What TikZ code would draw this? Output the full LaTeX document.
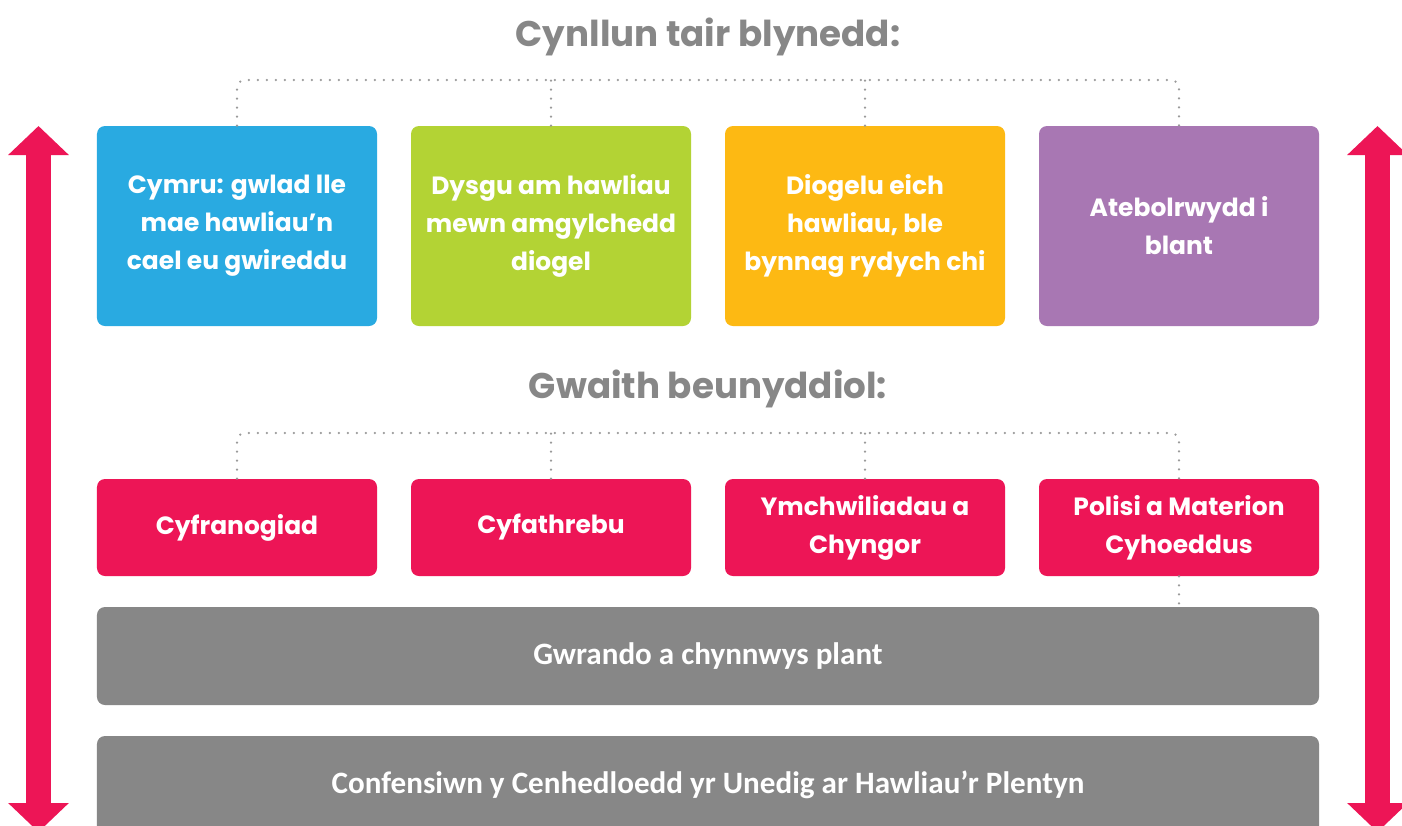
\documentclass[tikz,border=0pt]{standalone}
\usepackage{fontspec}
\setmainfont{Poppins}
\newfontfamily\basefont{Carlito}
\usepackage{tikz}
\usetikzlibrary{arrows.meta,positioning}
\definecolor{rightsblue}{HTML}{29AAE1}
\definecolor{rightsgreen}{HTML}{B3D334}
\definecolor{rightsorange}{HTML}{FDB913}
\definecolor{rightspurple}{HTML}{A877B3}
\definecolor{rightspink}{HTML}{ED1556}
\definecolor{basegray}{HTML}{878787}
\definecolor{headgray}{HTML}{878787}
\definecolor{dotgray}{HTML}{9A9A9A}

\begin{document}
\begin{tikzpicture}[x=0.2mm, y=-0.2mm,
    planbox/.style={rectangle, rounded corners=1.6mm, minimum width=56mm, minimum height=40mm,
        inner sep=0pt, text=white, align=center, font=\bfseries\fontsize{14.2}{21.6}\selectfont},
    workbox/.style={planbox, fill=rightspink, minimum height=19.4mm},
    basebox/.style={rectangle, rounded corners=1.6mm, fill=basegray, minimum width=244.4mm,
        minimum height=19.6mm, text=white, font=\basefont\bfseries\fontsize{17.7}{20}\selectfont},
    heading/.style={text=headgray, font=\bfseries\fontsize{20.3}{24}\selectfont},
    dotline/.style={draw=dotgray, line width=0.5mm, line cap=round, dash pattern=on 0pt off 1.8mm,
        rounded corners=1.6mm},
    bigarrow/.style={draw=rightspink, line width=5mm,
        {Triangle[width=11.8mm,length=5.8mm]}-{Triangle[width=11.8mm,length=5.8mm]}}
]
\useasboundingbox (0,0) rectangle (1402,825);
\clip (0,0) rectangle (1402,825);
\fill[white] (0,0) rectangle (1402,825);

% ---- Three-year plan ----
\node[heading] (plantitle) at (708,37) {Cynllun tair blynedd:};
\coordinate (planhub) at (708,80);

\node[planbox, fill=rightsblue] (plan1) at (237,226) {Cymru: gwlad lle\\mae hawliau’n\\cael eu gwireddu};
\node[planbox, fill=rightsgreen] (plan2) at (551,226) {Dysgu am hawliau\\mewn amgylchedd\\diogel};
\node[planbox, fill=rightsorange] (plan3) at (865,226) {Diogelu eich\\hawliau, ble\\bynnag rydych chi};
\node[planbox, fill=rightspurple] (plan4) at (1179,226) {Atebolrwydd i\\blant};

% dotted bracket above the plan boxes
\draw[dotline] (plan1.north) |- (planhub) -| (plan4.north);
\draw[dotline] (plan2.north) -- (plan2.north |- planhub);
\draw[dotline] (plan3.north) -- (plan3.north |- planhub);

% ---- Daily work ----
\node[heading] (worktitle) at (708,389) {Gwaith beunyddiol:};
\coordinate (workhub) at (708,433);

\node[workbox] (work1) at (237,527.5) {Cyfranogiad};
\node[workbox] (work2) at (551,527.5) {Cyfathrebu};
\node[workbox] (work3) at (865,527.5) {Ymchwiliadau a\\Chyngor};
\node[workbox] (work4) at (1179,527.5) {Polisi a Materion\\Cyhoeddus};

\draw[dotline] (work1.north) |- (workhub) -| (work4.north);
\draw[dotline] (work2.north) -- (work2.north |- workhub);
\draw[dotline] (work3.north) -- (work3.north |- workhub);

% ---- Foundations ----
\node[basebox] (listen) at (708,656) {Gwrando a chynnwys plant};
\node[basebox] (uncrc) at (708,785) {Confensiwn y Cenhedloedd yr Unedig ar Hawliau’r Plentyn};

\draw[dotline] (work4.south) -- (work4.south |- listen.north);

% ---- Side arrows ----
\draw[bigarrow] (38.5,126) -- (38.5,832);
\draw[bigarrow] (1377.5,126) -- (1377.5,832);

\end{tikzpicture}
\end{document}
